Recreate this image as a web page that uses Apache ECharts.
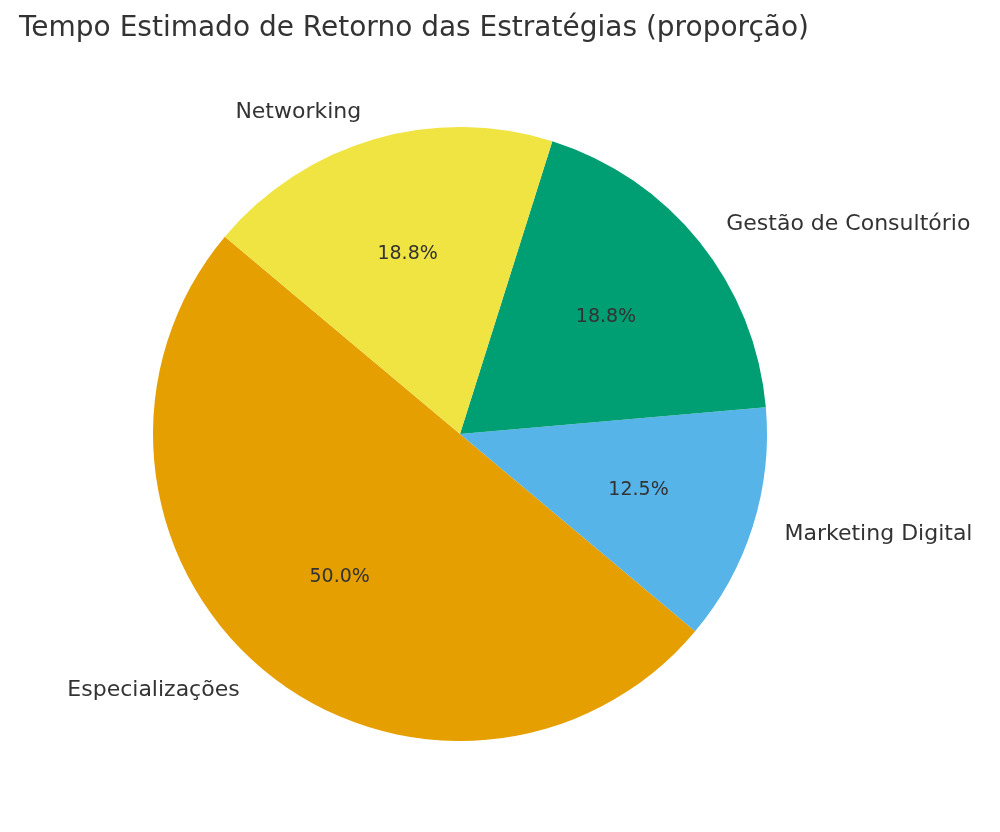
<!DOCTYPE html>
<html><head><meta charset="utf-8">
<script src="https://cdn.jsdelivr.net/npm/echarts@6/dist/echarts.min.js"></script>
<style>html,body{margin:0;background:#fff}#c{width:1000px;height:832px}</style></head>
<body><div id="c"></div>
<script>
const categories = ['Especializações','Marketing Digital','Gestão de Consultório','Networking'];
const values = [8, 2, 3, 3];
const colors = ['#E69F00','#56B4E9','#009E73','#F0E442'];
const data = categories.map((n,i)=>({name:n,value:values[i],itemStyle:{color:colors[i]}}));
const R = 307, C = [460, 434];
const chart = echarts.init(document.getElementById('c'));
chart.setOption({
  animation:false,
  textStyle:{fontFamily:'DejaVu Sans'},
  title:{text:'Tempo Estimado de Retorno das Estratégias (proporção)',left:14,top:10,
    textStyle:{fontFamily:'DejaVu Sans',fontSize:28,fontWeight:'normal',color:'#333'}},
  series:[
    {type:'pie',center:C,radius:[0,R],startAngle:140,clockwise:false,data:data,silent:true,
      label:{position:'outside',fontSize:22,color:'#333',fontFamily:'DejaVu Sans',formatter:'{b}'},
      labelLine:{show:false,length:28,length2:0}},
    {type:'pie',center:C,radius:[R*0.2,R],startAngle:140,clockwise:false,silent:true,
      data:categories.map((n,i)=>({name:n,value:values[i],itemStyle:{color:'transparent'}})),
      label:{position:'inside',fontSize:19,color:'#333',fontFamily:'DejaVu Sans',
        formatter:p=>p.percent.toFixed(1)+'%'},
      labelLine:{show:false}}
  ]
});
</script></body></html>
